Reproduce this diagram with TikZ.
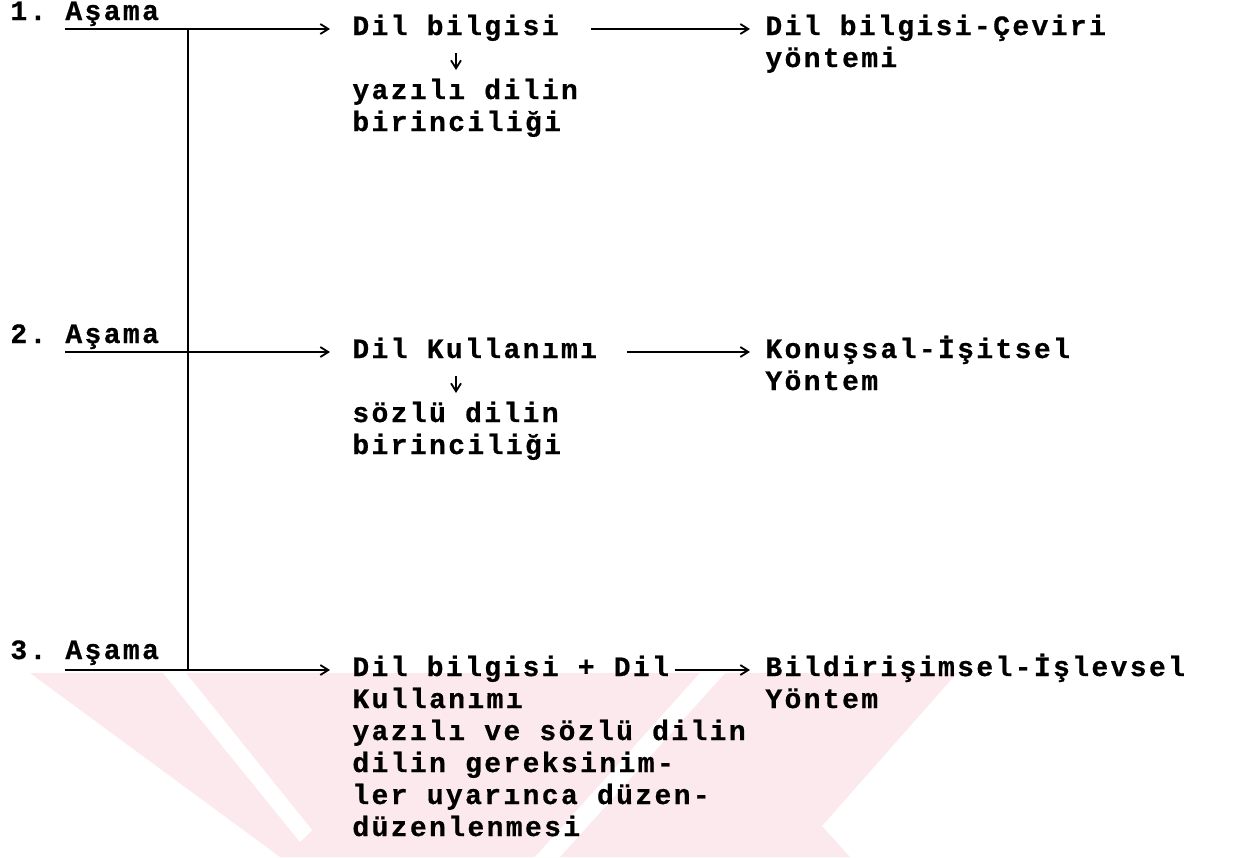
\documentclass[tikz,border=0pt]{standalone}
\usepackage{fontspec}
\usetikzlibrary{arrows.meta}
\newfontfamily\tw{Liberation Mono}[LetterSpace=8.5,BoldFeatures={FakeBold=0.6}]
\definecolor{wm}{RGB}{252,233,237}
\begin{document}
\begin{tikzpicture}[x=0.5pt,y=-0.5pt,
  txt/.style={inner sep=0pt,anchor=base west,font=\tw\bfseries\fontsize{14}{16}\selectfont},
  ln/.style={line width=1pt},
  vln/.style={line width=1.4pt},
  arr/.style={line width=0.9pt,-{Straight Barb[length=4pt,width=5pt]}}]
\useasboundingbox (0,0) rectangle (1235,857);
% watermark
\fill[wm] (30,673) -- (957,673) -- (822,826) -- (850,857) -- (280,857) -- cycle;
\fill[white] (163,673) -- (186,673) -- (312,830) -- (300,842) -- cycle;
\fill[white] (700,673) -- (725,673) -- (560,857) -- (535,857) -- cycle;
% row labels
\node[txt] (n1) at (10,20) {1.};
\node[txt] (l1) at (65,20) {Aşama};
\node[txt] (n2) at (10,343) {2.};
\node[txt] (l2) at (65,343) {Aşama};
\node[txt] (n3) at (10,659) {3.};
\node[txt] (l3) at (65,659) {Aşama};
\coordinate (s1) at (65,29);
\coordinate (s2) at (65,352);
\coordinate (s3) at (65,670);
\coordinate (j1) at (188,29);
\coordinate (j2) at (188,352);
\coordinate (j3) at (188,670);
% middle texts
\node[txt] (a1) at (352,35) {Dil bilgisi};
\node[txt] (b1) at (352,99) {yazılı dilin};
\node[txt] (c1) at (352,131) {birinciliği};
\node[txt] (a2) at (352,358) {Dil Kullanımı};
\node[txt] (b2) at (352,422) {sözlü dilin};
\node[txt] (c2) at (352,454) {birinciliği};
\node[txt] (a3) at (352,676) {Dil bilgisi + Dil};
\node[txt] (b3) at (352,708) {Kullanımı};
\node[txt] (c3) at (352,740) {yazılı ve sözlü dilin};
\node[txt] (d3) at (352,772) {dilin gereksinim-};
\node[txt] (e3) at (352,804) {ler uyarınca düzen-};
\node[txt] (f3) at (352,836) {düzenlenmesi};
% right texts
\node[txt] (r1) at (765,35) {Dil bilgisi-Çeviri};
\node[txt] (q1) at (765,67) {yöntemi};
\node[txt] (r2) at (765,358) {Konuşsal-İşitsel};
\node[txt] (q2) at (765,390) {Yöntem};
\node[txt] (r3) at (765,676) {Bildirişimsel-İşlevsel};
\node[txt] (q3) at (765,708) {Yöntem};
% lines
\draw[ln] (s1) -- (j1);
\draw[ln] (s2) -- (j2);
\draw[ln] (s3) -- (j3);
\draw[vln] (j1) -- (j3);
\draw[arr,shorten >=11pt] (j1) -- (j1 -| a1.west);
\draw[arr,shorten >=11pt] (j2) -- (j2 -| a2.west);
\draw[arr,shorten >=11pt] (j3) -- (j3 -| a3.west);
\draw[arr,shorten <=16pt,shorten >=7.5pt] (j1 -| a1.east) -- (j1 -| r1.west);
\draw[arr,shorten <=15pt,shorten >=7.5pt] (j2 -| a2.east) -- (j2 -| r2.west);
\draw[arr,shorten <=3pt,shorten >=7.5pt] (j3 -| a3.east) -- (j3 -| r3.west);
\draw[arr,shorten <=9pt,shorten >=14.5pt] (456,0 |- a1.base) -- (456,0 |- b1.base);
\draw[arr,shorten <=9pt,shorten >=14.5pt] (456,0 |- a2.base) -- (456,0 |- b2.base);
\end{tikzpicture}
\end{document}
